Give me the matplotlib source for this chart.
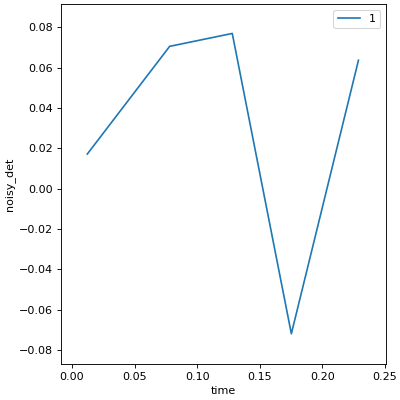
import matplotlib
matplotlib.use("Agg")
import matplotlib.pyplot as plt

time = [0.0122, 0.0780, 0.1280, 0.1752, 0.2288]
noisy_det = [0.0172, 0.0706, 0.0770, -0.0719, 0.0637]

fig, ax = plt.subplots(figsize=(5, 5), dpi=80)
ax.plot(time, noisy_det, label='1')
ax.set_xlim(-0.0088, 0.2508)
ax.set_ylim(-0.0869, 0.0916)
ax.set_xlabel('time')
ax.set_ylabel('noisy_det')
ax.legend(loc='upper right')
fig.subplots_adjust(left=0.1525, right=0.965, top=0.99, bottom=0.09)
fig.savefig('out.png')
